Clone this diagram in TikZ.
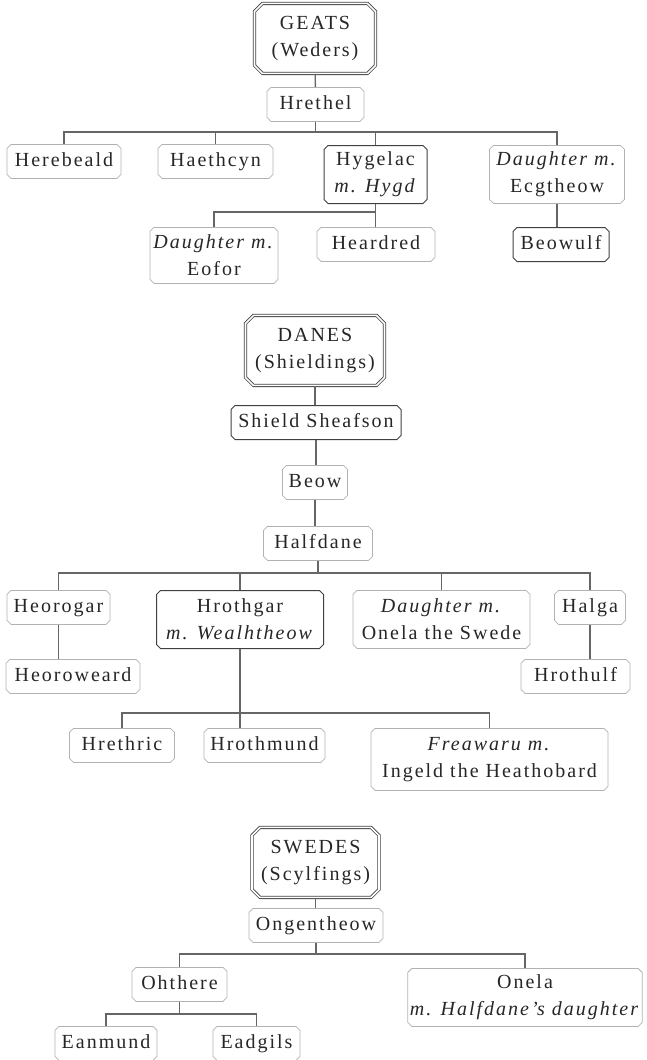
\documentclass[tikz,border=0pt]{standalone}
\usepackage{fontspec}
\setmainfont[LetterSpace=10]{Liberation Serif}
\usetikzlibrary{shapes.misc,positioning}
\tikzstyle{every node}=[anchor=north,chamfered rectangle,
  chamfered rectangle xsep=2pt,chamfered rectangle ysep=2pt,
  inner sep=0pt,align=center,text=black!85,
  font=\fontsize{20}{27}\selectfont]
\tikzstyle{person}=[draw=black!30,line width=0.8pt]
\tikzstyle{hero}=[draw=black!75,line width=1pt]
\tikzstyle{one}=[minimum height=34pt,text height=15pt,text depth=5pt]
\tikzstyle{two}=[minimum height=58pt]
\tikzstyle{tribe}=[draw=black!75,line width=0.8pt,double=white,
  double distance=1.6pt,minimum height=70pt,chamfered rectangle xsep=4pt,
  chamfered rectangle ysep=4pt]
\tikzstyle{kin}=[draw=black!60,line width=1.3pt]

\begin{document}
\begin{tikzpicture}[x=1pt,y=-1pt]
  \useasboundingbox (0,0) rectangle (646,1060);
  % Geats
  \node[tribe,minimum width=121pt] (geats) at (315,3) {GEATS\\(Weders)};
  \node[person,one,minimum width=97pt] (hrethel) at (315.5,87) {Hrethel};
  \node[person,one,minimum width=114pt] (herebeald) at (64,144) {Herebeald};
  \node[person,one,minimum width=115pt] (haethcyn) at (215.5,144) {Haethcyn};
  \node[hero,two,minimum width=103pt] (hygelac) at (375.5,145) {Hygelac\\\textit{m. Hygd}};
  \node[person,two,minimum width=135pt] (ecgtheow) at (557,145) {\textit{Daughter m.}\\Ecgtheow};
  \node[person,two,minimum width=128pt,minimum height=56pt] (eofor) at (214,227) {\textit{Daughter m.}\\Eofor};
  \node[person,one,minimum width=118pt] (heardred) at (376,227) {Heardred};
  \node[hero,one,minimum width=96pt] (beowulf) at (561,227) {Beowulf};
  \coordinate (bus1) at (0,132);
  \coordinate (bus2) at (0,212);
  \draw[kin] (geats) -- (hrethel);
  \draw[kin] (hrethel.south) -- (hrethel.south |- bus1);
  \foreach \child in {herebeald,haethcyn,hygelac,ecgtheow}
    \draw[kin] (hrethel.south |- bus1) -| (\child.north);
  \draw[kin] (hygelac.south) -- (hygelac.south |- heardred.north);
  \draw[kin] (hygelac.south |- bus2) -| (eofor.north);
  \draw[kin] (ecgtheow.south) -- (ecgtheow.south |- beowulf.north);
  % Danes
  \node[tribe,minimum width=139pt] (danes) at (315,315) {DANES\\(Shieldings)};
  \node[hero,one,minimum width=170pt] (shield) at (316,405) {Shield Sheafson};
  \node[person,one,minimum width=65pt] (beow) at (315,465) {Beow};
  \node[person,one,minimum width=109pt] (halfdane) at (318,526) {Halfdane};
  \node[person,one,minimum width=103pt] (heorogar) at (58.5,590) {Heorogar};
  \node[hero,two,minimum width=167pt] (hrothgar) at (240,590) {Hrothgar\\\textit{m. Wealhtheow}};
  \node[person,two,minimum width=177pt] (onelad) at (441.5,590) {\textit{Daughter m.}\\Onela the Swede};
  \node[person,one,minimum width=71pt] (halga) at (590,590) {Halga};
  \node[person,one,minimum width=134pt] (heoroweard) at (73,659) {Heoroweard};
  \node[person,one,minimum width=109pt] (hrothulf) at (575.5,659) {Hrothulf};
  \node[person,one,minimum width=105pt] (hrethric) at (122,728) {Hrethric};
  \node[person,one,minimum width=121pt] (hrothmund) at (264.5,728) {Hrothmund};
  \node[person,two,minimum width=237pt,minimum height=62pt] (freawaru) at (489.5,728) {\textit{Freawaru m.}\\Ingeld the Heathobard};
  \coordinate (bus3) at (0,573);
  \coordinate (bus4) at (0,713);
  \draw[kin] (danes.south) -- (danes.south |- shield.north);
  \draw[kin] (shield.south) -- (shield.south |- beow.north);
  \draw[kin] (beow.south) -- (beow.south |- halfdane.north);
  \draw[kin] (halfdane.south) -- (halfdane.south |- bus3);
  \foreach \child in {heorogar,hrothgar,onelad,halga}
    \draw[kin] (halfdane.south |- bus3) -| (\child.north);
  \draw[kin] (heorogar.south) -- (heorogar.south |- heoroweard.north);
  \draw[kin] (halga.south) -- (halga.south |- hrothulf.north);
  \draw[kin] (hrothgar.south) -- (hrothgar.south |- hrothmund.north);
  \foreach \child in {hrethric,freawaru}
    \draw[kin] (hrothgar.south |- bus4) -| (\child.north);
  % Swedes
  \node[tribe,minimum width=127pt] (swedes) at (315.5,827) {SWEDES\\(Scylfings)};
  \node[person,one,minimum width=134pt] (ongentheow) at (316,908) {Ongentheow};
  \node[person,one,minimum width=95pt] (ohthere) at (179.5,967) {Ohthere};
  \node[person,two,minimum width=232pt] (onela) at (525,968) {Onela\\\textit{m. Halfdane's daughter}};
  \node[person,one,minimum width=102pt] (eanmund) at (106,1026) {Eanmund};
  \node[person,one,minimum width=87pt] (eadgils) at (256.5,1026) {Eadgils};
  \coordinate (bus5) at (0,954);
  \coordinate (bus6) at (0,1014);
  \draw[kin] (swedes.south) -- (swedes.south |- ongentheow.north);
  \draw[kin] (ongentheow.south) -- (ongentheow.south |- bus5);
  \foreach \child in {ohthere,onela}
    \draw[kin] (ongentheow.south |- bus5) -| (\child.north);
  \draw[kin] (ohthere.south) -- (ohthere.south |- bus6);
  \foreach \child in {eanmund,eadgils}
    \draw[kin] (ohthere.south |- bus6) -| (\child.north);
\end{tikzpicture}
\end{document}
